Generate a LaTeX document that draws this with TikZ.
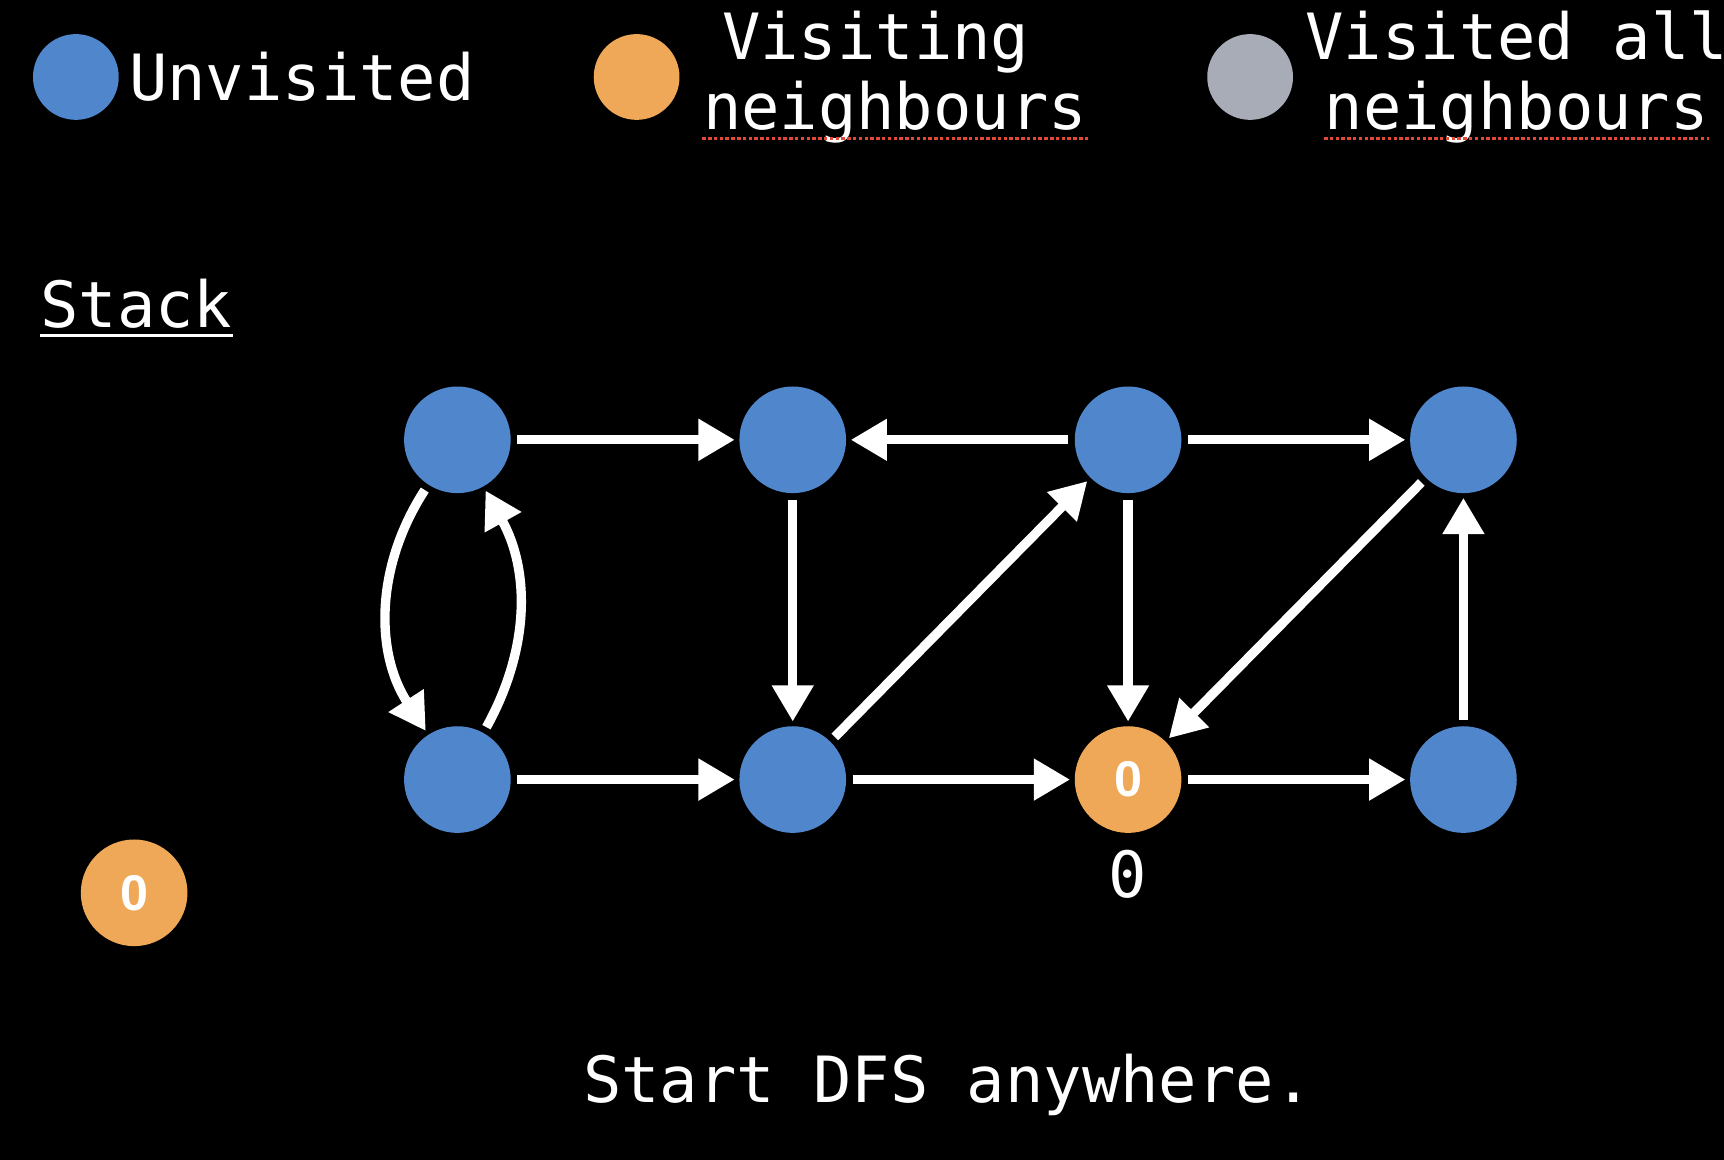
\documentclass[tikz,border=0pt]{standalone}
\usepackage{fontspec}
\setmonofont{DejaVu Sans Mono}
\newfontfamily\numfont{Liberation Sans}
\usetikzlibrary{positioning, arrows.meta}

\definecolor{unvisited}{RGB}{80,134,204}
\definecolor{visiting}{RGB}{239,168,87}
\definecolor{visitedall}{RGB}{168,172,182}
\definecolor{spellred}{RGB}{226,72,56}

\tikzset{
  vertex/.style={circle, minimum size=0.97cm, inner sep=0pt, fill=unvisited,
    text=white, font=\numfont\bfseries\fontsize{13}{13}\selectfont},
  active/.style={vertex, fill=visiting},
  done/.style={vertex, fill=visitedall},
  key/.style={minimum size=0.78cm},
  flow/.style={draw=white, line width=0.085cm,
    -{Triangle[length=0.33cm,width=0.36cm]}, shorten >=1pt, shorten <=1.5pt},
  caption/.style={text=white, inner sep=0pt,
    font=\ttfamily\fontsize{16.5}{18.2}\selectfont},
  spell/.style={draw=spellred, line width=0.026cm, dash pattern=on 0.9pt off 0.6pt}
}

\begin{document}
\begin{tikzpicture}[node distance=3.09cm and 3.05cm, on grid]
  \fill[black] (0,0) rectangle (15.68,-10.55);
  \useasboundingbox (0,0) rectangle (15.68,-10.55);

  % legend
  \node[vertex, key]  (keyU) at (0.69,-0.70)  {};
  \node[active, key]  (keyV) at (5.79,-0.70)  {};
  \node[done, key]    (keyG) at (11.37,-0.70) {};
  \node[caption, anchor=west] (txtU) at ([xshift=0.08cm]keyU.east) {Unvisited};
  \node[caption, anchor=west, align=center] (txtV) at ([xshift=0.2cm]keyV.east)
    {Visiting\hphantom{x}\\neighbours};
  \node[caption, anchor=west, align=center] (txtG) at ([xshift=0.1cm]keyG.east)
    {Visited all\\neighbours};
  \draw[spell] ([yshift=0.05cm]txtV.south west) -- ([yshift=0.05cm]txtV.south east);
  \draw[spell] ([xshift=0.175cm,yshift=0.05cm]txtG.south west)
    -- ([xshift=-0.175cm,yshift=0.05cm]txtG.south east);

  % stack
  \node[caption, anchor=base west] (stack) at (0.36,-2.98) {Stack};
  \draw[white, line width=0.03cm] ([yshift=-0.055cm]stack.south west)
    -- ([yshift=-0.055cm]stack.south east);
  \node[active] (S0) at (1.22,-8.12) {0};

  % graph
  \node[vertex] (A) at (4.16,-4.00) {};
  \node[vertex] (B) [right=of A] {};
  \node[vertex] (C) [right=of B] {};
  \node[vertex] (D) [right=of C] {};
  \node[vertex] (E) [below=of A] {};
  \node[vertex] (F) [right=of E] {};
  \node[active] (G) [right=of F] {0};
  \node[vertex] (H) [right=of G] {};
  \node[caption] (G0) [below=0.86cm of G] {0};

  \path (A) edge [flow] (B)
        (C) edge [flow] (B)
        (C) edge [flow] (D)
        (B) edge [flow] (F)
        (C) edge [flow] (G)
        (D) edge [flow] (G)
        (F) edge [flow] (C)
        (E) edge [flow] (F)
        (F) edge [flow] (G)
        (G) edge [flow] (H)
        (H) edge [flow] (D)
        (A) edge [flow, bend right=33] (E)
        (E) edge [flow, bend right=29] (A);

  \node[caption, anchor=base] (msg) at (8.62,-10.03) {Start DFS anywhere.};
\end{tikzpicture}
\end{document}
